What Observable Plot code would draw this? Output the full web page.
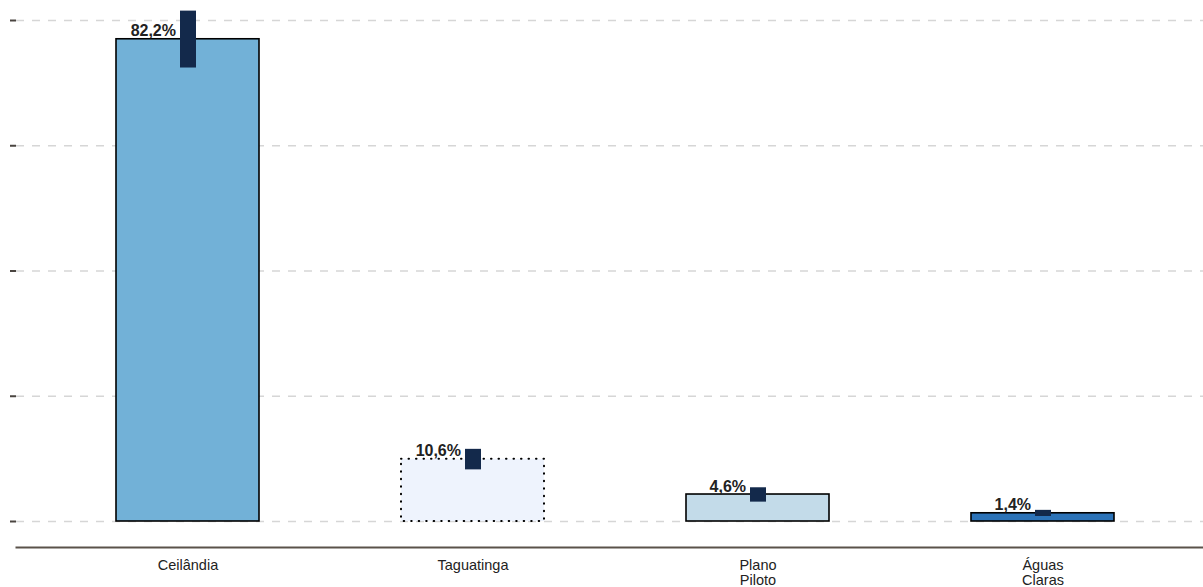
<!DOCTYPE html>
<html>
<head>
<meta charset="utf-8">
<script src="https://cdn.jsdelivr.net/npm/d3@7"></script>
<script src="https://cdn.jsdelivr.net/npm/@observablehq/plot@0.6"></script>
<style>
  html, body { margin: 0; padding: 0; background: #fff; }
  #chart { width: 1203px; height: 587px; }
</style>
</head>
<body>
<div id="chart"></div>
<script>
const categories = ["Ceilândia", "Taguatinga", "Plano Piloto", "Águas Claras"];
const values = [82.2, 10.6, 4.6, 1.4];
const lower = [77.3, 8.8, 3.3, 0.85];
const upper = [87.0, 12.3, 5.75, 1.9];
const labels = ["82,2%", "10,6%", "4,6%", "1,4%"];
const fills = ["#72b1d7", "#eef3fd", "#c3dbe9", "#2c73b8"];
const lineTypes = ["solid", "dotted", "solid", "solid"];
const gridTicks = [0, 21.35, 42.7, 64.05, 85.4];

const data = categories.map((c, i) => ({
  cat: c, value: values[i], lo: lower[i], hi: upper[i],
  label: labels[i], fill: fills[i], lt: lineTypes[i]
}));

const chart = Plot.plot({
  width: 1203,
  height: 587,
  marginLeft: 16,
  marginRight: 0,
  marginTop: 10,
  marginBottom: 40,
  style: { fontFamily: "'Liberation Sans', Arial, sans-serif", fontSize: "14px", color: "#222", background: "#fff" },
  x: { domain: categories, range: [44.75, 1184.75], paddingInner: 0.5, paddingOuter: 0.25, label: null },
  y: { domain: [0, 85.4], range: [521, 20], label: null },
  marks: [
    Plot.ruleY(gridTicks, { stroke: "#d6d6d6", strokeWidth: 1.5, strokeDasharray: "8,8" }),
    Plot.axisY({ ticks: gridTicks, tickSize: 6, tickFormat: () => "", stroke: "#4a4440", strokeWidth: 2, label: null }),
    Plot.frame({ anchor: "bottom", stroke: "#5a524a", strokeWidth: 2 }),
    Plot.axisX({ tickSize: 0, tickPadding: 12, fontSize: 14.5, fill: "#222", lineHeight: 1.04, tickFormat: d => d.replace(" ", "\n"), label: null }),
    Plot.barY(data.filter(d => d.lt === "solid"), { x: "cat", y: "value", fill: "fill", stroke: "#000", strokeWidth: 1.6 }),
    Plot.barY(data.filter(d => d.lt === "dotted"), { x: "cat", y: "value", fill: "fill", stroke: "#000", strokeWidth: 2, strokeDasharray: "0.5,7", strokeLinecap: "round" }),
    Plot.ruleX(data, { x: "cat", y1: "lo", y2: "hi", stroke: "#13294b", strokeWidth: 16, strokeLinecap: "butt" }),
    Plot.text(data, { x: "cat", y: "value", text: "label", textAnchor: "end", lineAnchor: "bottom", dx: -12, dy: -3, fontSize: 16, fontWeight: "bold", fill: "#222" })
  ]
});
document.getElementById("chart").appendChild(chart);
</script>
</body>
</html>
